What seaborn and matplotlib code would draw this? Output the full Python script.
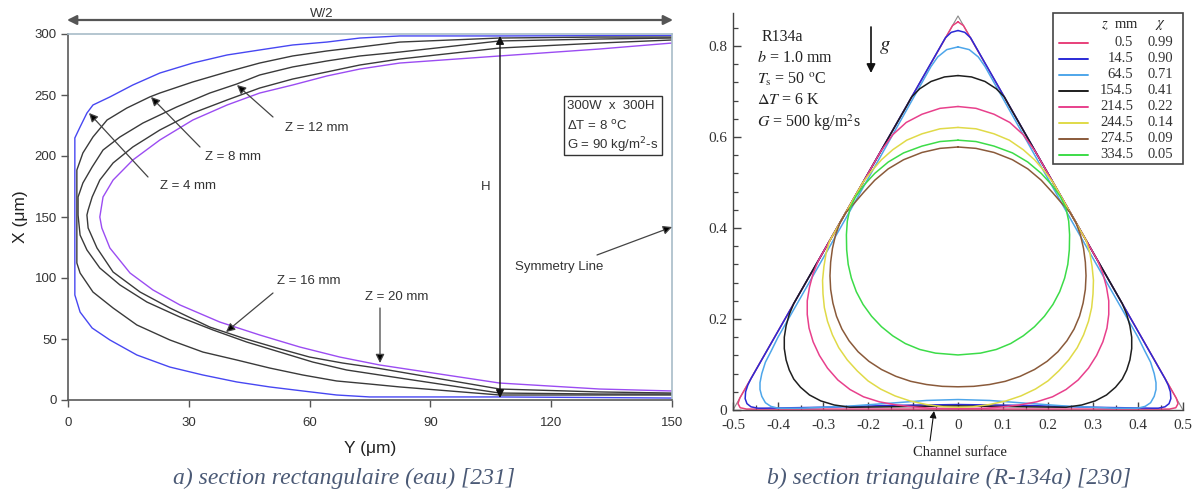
import numpy as np
import matplotlib
matplotlib.use("Agg")
import matplotlib.pyplot as plt
import seaborn as sns
from matplotlib.patches import Rectangle
from matplotlib.lines import Line2D

# ---------------- data: a) rectangular channel (water) ----------------
# interface profiles, Y (um) along width, X (um) along height
z4_Y = [150, 107.2, 82.4, 72.5, 64.3, 55.8, 47.6, 39.5, 31.0, 22.8, 16.1, 10.4, 6.2, 4.7, 3.0, 1.7,
        1.7, 3.0, 6.0, 10.4, 17.1, 25.3, 33.5, 41.9, 50.1, 58.3, 66.7, 74.9, 82.4, 107.2, 132.0, 150]
z4_X = [298.8, 298.4, 298.4, 296.7, 293.4, 291.0, 286.9, 282.8, 276.2, 268.0, 258.2, 248.4, 241.8, 235.2, 223.8, 214.8,
        86.1, 72.1, 59.0, 49.2, 36.9, 27.0, 20.5, 14.8, 10.7, 7.4, 4.1, 2.5, 2.5, 2.5, 2.0, 1.6]
z8_Y = [150, 132.0, 107.2, 82.4, 72.5, 64.3, 55.8, 47.6, 39.5, 31.0, 22.8, 20.3, 14.6, 9.7, 6.2, 3.7, 2.2,
        2.2, 3.0, 6.2, 11.2, 17.1, 25.3, 33.5, 41.9, 50.1, 58.3, 66.7, 74.9, 82.4, 107.2, 132.0, 150]
z8_X = [297.5, 297.5, 296.7, 293.4, 289.3, 286.1, 282.0, 276.2, 268.9, 260.7, 251.6, 248.4, 239.3, 229.5, 215.6, 202.5, 188.5,
        112.3, 104.1, 88.5, 75.4, 61.5, 49.2, 39.3, 32.8, 26.2, 20.5, 15.6, 13.1, 10.7, 4.1, 4.1, 4.1]
z12_Y = [150, 132.0, 107.2, 82.4, 72.5, 64.3, 55.8, 47.6, 41.9, 35.2, 27.0, 18.6, 12.9, 8.7, 6.0, 3.7, 2.5,
         2.5, 3.0, 4.7, 7.9, 12.9, 19.6, 27.8, 36.0, 44.4, 52.6, 60.8, 69.2, 77.4, 82.4, 107.2, 132.0, 150]
z12_X = [296.7, 295.9, 294.3, 285.2, 282.0, 277.9, 273.0, 266.4, 259.0, 251.6, 240.2, 227.0, 215.6, 204.9, 191.0, 177.9, 166.4,
         151.6, 135.2, 123.0, 108.2, 94.3, 80.3, 68.0, 57.4, 47.5, 39.3, 31.1, 24.6, 20.5, 18.0, 5.7, 4.9, 4.9]
z16_Y = [150, 132.0, 107.2, 82.4, 72.5, 64.3, 55.8, 47.6, 39.5, 31.0, 22.8, 16.1, 11.2, 7.9, 6.0, 5.0,
         4.7, 5.0, 7.2, 11.2, 17.9, 25.3, 35.2, 43.4, 51.9, 60.0, 68.2, 76.7, 82.4, 107.2, 132.0, 150]
z16_X = [295.1, 292.6, 288.5, 279.5, 274.6, 268.9, 263.1, 255.7, 245.9, 235.2, 221.3, 207.4, 194.3, 180.3, 166.4, 155.7,
         151.6, 141.0, 124.6, 104.9, 88.5, 75.4, 59.8, 50.8, 42.6, 35.2, 30.3, 26.2, 23.0, 9.0, 6.6, 5.7]
z20_Y = [150, 132.0, 107.2, 82.4, 72.5, 64.3, 55.8, 47.6, 39.5, 31.0, 22.8, 16.1, 11.2, 8.7, 7.9,
         8.4, 10.4, 15.4, 21.1, 27.8, 37.7, 47.6, 57.6, 67.5, 77.4, 82.4, 107.2, 132.0, 150]
z20_X = [292.6, 287.7, 282.0, 276.2, 271.3, 265.6, 258.2, 251.6, 241.8, 229.5, 213.1, 196.7, 180.3, 166.4, 150.0,
         141.0, 124.6, 104.1, 90.2, 77.9, 63.9, 53.3, 43.4, 35.2, 28.7, 26.2, 13.9, 9.0, 7.4]
rect_xticks = [0, 30, 60, 90, 120, 150]
rect_yticks = [0, 50, 100, 150, 200, 250, 300]

# ---------------- data: b) triangular channel (R-134a) ----------------
tri_wall_x = [-0.5, 0.0, 0.5]
tri_wall_y = [0.0, 0.866, 0.0]
# left half of each interface (x <= 0), the profiles are symmetric about x = 0
t05_x = [0, -0.012, -0.485, -0.489, -0.484, -0.47, 0]
t05_y = [0.853, 0.845, 0.026, 0.014, 0.005, 0.002, 0.002]
t145_x = [0, -0.015, -0.028, -0.46, -0.467, -0.472, -0.473, -0.469, -0.46, -0.445, -0.43, -0.3, -0.15, 0]
t145_y = [0.834, 0.830, 0.818, 0.069, 0.055, 0.040, 0.025, 0.014, 0.007, 0.004, 0.004, 0.006, 0.010, 0.012]
t645_x = [0, -0.025, -0.045, -0.06, -0.25, -0.40, -0.415, -0.428, -0.436, -0.44, -0.44, -0.436, -0.428, -0.416,
          -0.40, -0.35, -0.25, -0.15, -0.07, 0]
t645_y = [0.798, 0.792, 0.776, 0.755, 0.42, 0.16, 0.13, 0.105, 0.08, 0.06, 0.045, 0.03, 0.016, 0.008,
          0.004, 0.004, 0.008, 0.015, 0.021, 0.023]
t1545_x = [0, -0.03, -0.06, -0.085, -0.103, -0.113, -0.365, -0.375, -0.382, -0.386, -0.386, -0.382, -0.375,
           -0.365, -0.35, -0.33, -0.305, -0.275, -0.24, -0.15, 0]
t1545_y = [0.735, 0.732, 0.722, 0.706, 0.688, 0.670, 0.234, 0.21, 0.185, 0.16, 0.135, 0.11, 0.088,
           0.068, 0.05, 0.033, 0.02, 0.011, 0.006, 0.007, 0.009]
t2145_x = [0, -0.04, -0.08, -0.115, -0.145, -0.172, -0.31, -0.322, -0.33, -0.335, -0.335, -0.331, -0.322,
           -0.308, -0.29, -0.267, -0.24, -0.21, -0.175, -0.136, -0.1, -0.062, 0]
t2145_y = [0.667, 0.663, 0.65, 0.632, 0.605, 0.568, 0.329, 0.3, 0.27, 0.24, 0.21, 0.18, 0.15,
           0.12, 0.092, 0.066, 0.045, 0.029, 0.018, 0.011, 0.007, 0.004, 0.003]
t2445_x = [0, -0.04, -0.08, -0.114, -0.145, -0.17, -0.192, -0.212, -0.285, -0.293, -0.298, -0.301, -0.3,
           -0.297, -0.29, -0.279, -0.265, -0.246, -0.224, -0.2, -0.172, -0.14, -0.107, -0.07, -0.033, 0]
t2445_y = [0.621, 0.618, 0.607, 0.593, 0.572, 0.55, 0.525, 0.499, 0.372, 0.345, 0.315, 0.285, 0.255,
           0.225, 0.195, 0.165, 0.137, 0.11, 0.086, 0.064, 0.046, 0.031, 0.02, 0.012, 0.007, 0.006]
t2745_x = [0, -0.04, -0.08, -0.121, -0.155, -0.185, -0.21, -0.23, -0.249, -0.262, -0.272, -0.279, -0.283,
           -0.2845, -0.283, -0.278, -0.27, -0.258, -0.242, -0.222, -0.198, -0.17, -0.138, -0.105, -0.07,
           -0.035, 0]
t2745_y = [0.578, 0.575, 0.566, 0.55, 0.53, 0.505, 0.478, 0.455, 0.434, 0.412, 0.385, 0.355, 0.325,
           0.295, 0.265, 0.235, 0.206, 0.178, 0.152, 0.128, 0.107, 0.089, 0.074, 0.063, 0.056,
           0.052, 0.051]
t3345_x = [0, -0.04, -0.08, -0.121, -0.155, -0.185, -0.21, -0.228, -0.24, -0.246, -0.248, -0.2474, -0.244,
           -0.237, -0.226, -0.211, -0.192, -0.17, -0.145, -0.117, -0.085, -0.05, 0]
t3345_y = [0.593, 0.59, 0.58, 0.565, 0.545, 0.52, 0.493, 0.468, 0.443, 0.415, 0.385, 0.352, 0.32,
           0.29, 0.26, 0.232, 0.206, 0.183, 0.163, 0.146, 0.133, 0.125, 0.121]
tri_z_labels = ["0.5", "14.5", "64.5", "154.5", "214.5", "244.5", "274.5", "334.5"]
tri_chi_labels = ["0.99", "0.90", "0.71", "0.41", "0.22", "0.14", "0.09", "0.05"]
tri_xticks = [-0.5, -0.4, -0.3, -0.2, -0.1, 0, 0.1, 0.2, 0.3, 0.4, 0.5]
tri_xticklabels = ["-0.5", "-0.4", "-0.3", "-0.2", "-0.1", "0", "0.1", "0.2", "0.3", "0.4", "0.5"]
tri_yticks = [0, 0.2, 0.4, 0.6, 0.8]
tri_yticklabels = ["0", "0.2", "0.4", "0.6", "0.8"]

# ---------------- styling ----------------
sns.set_style("ticks")
plt.rcParams["font.family"] = ["Liberation Sans", "DejaVu Sans"]

W, H = 1195, 491
fig = plt.figure(figsize=(W / 100, H / 100), dpi=100)


def fp(px, py):
    """figure-pixel helper (top-left origin -> matplotlib figure pixels)"""
    return (px, H - py)


SANS = ["Liberation Sans", "DejaVu Sans"]
SERIF = ["Liberation Serif", "DejaVu Serif"]

# ================= left panel =================
axL = fig.add_axes([68 / W, 1 - 400 / H, 604 / W, 366 / H])
rect_series = [
    (z4_Y, z4_X, "#4747f2"),
    (z8_Y, z8_X, "#3a3a3a"),
    (z12_Y, z12_X, "#3a3a3a"),
    (z16_Y, z16_X, "#3a3a3a"),
    (z20_Y, z20_X, "#9b4cf2"),
]
for yy, xx, col in rect_series:
    sns.lineplot(x=yy, y=xx, sort=False, estimator=None, ax=axL, color=col, lw=1.0)
axL.set_xlim(0, 150)
axL.set_ylim(0, 300)
axL.set_xticks(rect_xticks)
axL.set_yticks(rect_yticks)
axL.tick_params(axis="both", direction="out", length=5, width=1, color="#555555",
                labelsize=9.5, labelcolor="#333333")
axL.tick_params(axis="x", pad=7)
axL.tick_params(axis="y", pad=3)
for s in ["left", "bottom"]:
    axL.spines[s].set_color("#5a5a5a")
    axL.spines[s].set_linewidth(1.2)
for s in ["top", "right"]:
    axL.spines[s].set_color("#a8bcc8")
    axL.spines[s].set_linewidth(1.2)
axL.set_xlabel("")
axL.set_ylabel("")

fig.text(370 / W, 1 - 449 / H, "Y (\u03bcm)", ha="center", va="center", fontsize=12.5,
         family=SANS, color="#222222")
fig.text(21 / W, 1 - 217 / H, "X (\u03bcm)", ha="center", va="center", fontsize=12.5,
         family=SANS, color="#222222", rotation=90)

# W/2 and H dimension arrows
axL.annotate("", xy=fp(67, 20), xytext=fp(673, 20), xycoords="figure pixels",
             textcoords="figure pixels",
             arrowprops=dict(arrowstyle="<|-|>", color="#555555", lw=1.6, mutation_scale=14,
                             shrinkA=0, shrinkB=0), annotation_clip=False)
fig.text(322 / W, 1 - 14 / H, "W/2", ha="center", va="center", fontsize=9.5, family=SANS, color="#333333")
axL.annotate("", xy=fp(500, 36), xytext=fp(500, 398), xycoords="figure pixels",
             textcoords="figure pixels",
             arrowprops=dict(arrowstyle="<|-|>", color="#111111", lw=1.0, mutation_scale=12,
                             shrinkA=0, shrinkB=0), annotation_clip=False)
fig.text(486 / W, 1 - 187 / H, "H", ha="center", va="center", fontsize=9.5, family=SANS, color="#333333")

# Z labels with arrows
z_notes = [
    ("Z = 4 mm", (160, 186), (148, 177), (89, 113)),
    ("Z = 8 mm", (205, 157), (200, 147), (151, 97)),
    ("Z = 12 mm", (285, 128), (273, 117), (237, 85)),
    ("Z = 16 mm", (277, 281), (273, 293), (226, 332)),
    ("Z = 20 mm", (365, 297), (380, 308), (380, 363)),
]
for txt, tpos, tail, head in z_notes:
    fig.text(tpos[0] / W, 1 - tpos[1] / H, txt, ha="left", va="center", fontsize=9.5,
             family=SANS, color="#333333")
    axL.annotate("", xy=fp(*head), xytext=fp(*tail), xycoords="figure pixels",
                 textcoords="figure pixels",
                 arrowprops=dict(arrowstyle="-|>", color="#444444", lw=0.9, mutation_scale=13,
                                 shrinkA=0, shrinkB=0, fc="black"), annotation_clip=False)

# Symmetry line label
fig.text(559 / W, 1 - 267 / H, "Symmetry Line", ha="center", va="center", fontsize=9.5,
         family=SANS, color="#333333")
axL.annotate("", xy=fp(672, 227), xytext=fp(597, 255), xycoords="figure pixels",
             textcoords="figure pixels",
             arrowprops=dict(arrowstyle="-|>", color="#444444", lw=0.9, mutation_scale=13,
                             shrinkA=0, shrinkB=0, fc="black"), annotation_clip=False)

# condition box
fig.patches.append(Rectangle((564 / W, 1 - 155 / H), 98 / W, 59 / H, transform=fig.transFigure,
                             fill=False, ec="#333333", lw=1.0))
for txt, py in [("300W  x  300H", 106), ("\u0394T = 8 $^{\\rm o}$C", 126), ("G = 90 kg/m$^{2}$-s", 145)]:
    fig.text(567 / W, 1 - py / H, txt, ha="left", va="center", fontsize=9.5, family=SANS,
             color="#333333", math_fontfamily="dejavusans")

fig.text(344 / W, 1 - 478 / H, "a) section rectangulaire (eau) [231]", ha="center", va="center",
         fontsize=17, family=SERIF, style="italic", color="#4b5a76")

# ================= right panel =================
axR = fig.add_axes([733 / W, 1 - 410 / H, 450 / W, 397 / H])
sns.lineplot(x=tri_wall_x, y=tri_wall_y, sort=False, estimator=None, ax=axR, color="#8a8a8a", lw=0.8)
tri_series = [
    (t05_x, t05_y, "#e8407a"),
    (t145_x, t145_y, "#2a2ad6"),
    (t645_x, t645_y, "#4ea6ea"),
    (t1545_x, t1545_y, "#1e1e1e"),
    (t2145_x, t2145_y, "#e8408c"),
    (t2445_x, t2445_y, "#e0da48"),
    (t2745_x, t2745_y, "#8a5a3a"),
    (t3345_x, t3345_y, "#3cdc48"),
]
for hx, hy, col in tri_series:
    hx = np.asarray(hx, dtype=float)
    hy = np.asarray(hy, dtype=float)
    fx = np.concatenate([hx, -hx[::-1]])
    fy = np.concatenate([hy, hy[::-1]])
    sns.lineplot(x=fx, y=fy, sort=False, estimator=None, ax=axR, color=col, lw=1.1)

axR.set_xlim(-0.5, 0.5)
axR.set_ylim(0, 0.8725)
axR.set_xticks(tri_xticks)
axR.set_xticklabels(tri_xticklabels)
axR.set_yticks(tri_yticks)
axR.set_yticklabels(tri_yticklabels)
axR.set_xticks(np.arange(-0.45, 0.5, 0.1), minor=True)
axR.set_yticks(np.arange(0.04, 0.87, 0.04), minor=True)
axR.tick_params(which="major", direction="in", length=6, width=1, color="#444444",
                labelsize=11, labelcolor="#333333", pad=4)
axR.tick_params(axis="x", which="major", pad=6.5)
axR.tick_params(which="minor", direction="in", length=3.5, width=0.9, color="#444444")
for lab in axR.get_xticklabels() + axR.get_yticklabels():
    lab.set_family(SERIF)
for s in ["top", "right"]:
    axR.spines[s].set_visible(False)
for s in ["left", "bottom"]:
    axR.spines[s].set_color("#444444")
    axR.spines[s].set_linewidth(1.0)
axR.set_xlabel("")
axR.set_ylabel("")

# condition text
cond = [("R134a", 762, 37), ("$b$ = 1.0 mm", 757, 58), ("$T_{\\rm s}$ = 50 $^{\\rm o}$C", 757, 79),
        ("$\\Delta T$ = 6 K", 757, 100), ("$G$ = 500 kg/m$^{2}$s", 757, 123)]
for txt, px, py in cond:
    fig.text(px / W, 1 - py / H, txt, ha="left", va="center", fontsize=11.5, family=SERIF,
             color="#222222", math_fontfamily="stix")

# gravity arrow
axR.annotate("", xy=fp(871, 73), xytext=fp(871, 27), xycoords="figure pixels",
             textcoords="figure pixels",
             arrowprops=dict(arrowstyle="-|>", color="#111111", lw=1.2, mutation_scale=13,
                             shrinkA=0, shrinkB=0), annotation_clip=False)
fig.text(885 / W, 1 - 47 / H, "$g$", ha="center", va="center", fontsize=15, family=SERIF,
         color="#222222", math_fontfamily="stix")

# channel surface
fig.text(960 / W, 1 - 453 / H, "Channel surface", ha="center", va="center", fontsize=10.5,
         family=SERIF, color="#222222")
axR.annotate("", xy=fp(934, 411), xytext=fp(930, 441), xycoords="figure pixels",
             textcoords="figure pixels",
             arrowprops=dict(arrowstyle="-|>", color="#111111", lw=0.8, mutation_scale=10,
                             shrinkA=0, shrinkB=0), annotation_clip=False)

# legend table
fig.patches.append(Rectangle((1053 / W, 1 - 164 / H), 130 / W, 151 / H, transform=fig.transFigure,
                             fill=False, ec="#444444", lw=1.2))
fig.text(1101 / W, 1 - 25 / H, "$z$  mm", ha="left", va="center", fontsize=10.5, family=SERIF,
         color="#222222", math_fontfamily="stix")
fig.text(1160 / W, 1 - 25 / H, "$\\chi$", ha="center", va="center", fontsize=10.5, family=SERIF,
         color="#222222", math_fontfamily="stix")
row_y = [43, 59, 75, 91, 107, 123, 139, 155]
for (hx, hy, col), zl, cl, py in zip(tri_series, tri_z_labels, tri_chi_labels, row_y):
    fig.add_artist(Line2D([1059 / W, 1088 / W], [1 - py / H, 1 - py / H], transform=fig.transFigure,
                          color=col, lw=1.4))
    fig.text(1133 / W, 1 - py / H, zl, ha="right", va="center", fontsize=10.5, family=SERIF,
             color="#333333")
    fig.text(1147 / W, 1 - py / H, cl, ha="left", va="center", fontsize=10.5, family=SERIF,
             color="#333333")

fig.text(949 / W, 1 - 478 / H, "b) section triangulaire (R-134a) [230]", ha="center", va="center",
         fontsize=17, family=SERIF, style="italic", color="#4b5a76")

fig.savefig("out.png", dpi=100, facecolor="white")
